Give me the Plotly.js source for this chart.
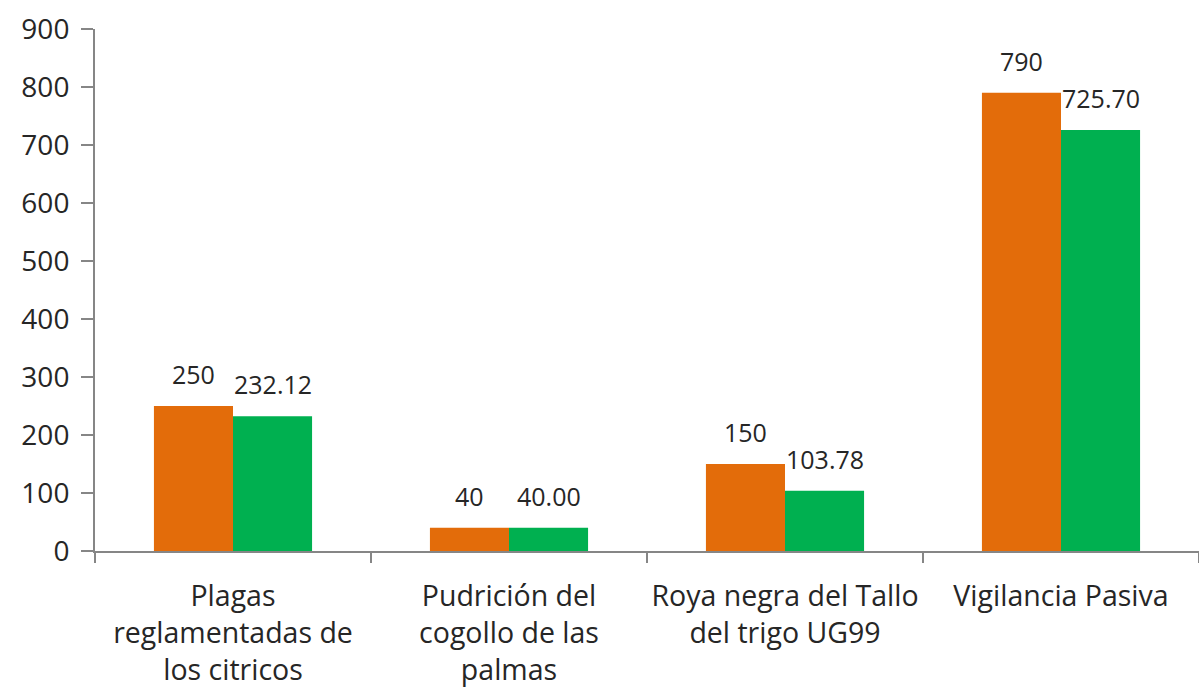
<!DOCTYPE html>
<html>
<head>
<meta charset="utf-8">
<script src="https://cdn.plot.ly/plotly-3.0.1.min.js"></script>
<style>html,body{margin:0;padding:0;background:#fff;}#chart{width:1199px;height:688px;}</style>
</head>
<body>
<div id="chart"></div>
<script>
var categories = ["Plagas<br>reglamentadas de<br>los citricos", "Pudrición del<br>cogollo de las<br>palmas", "Roya negra del Tallo<br>del trigo UG99", "Vigilancia Pasiva"];
var seriesA = [250, 40, 150, 790];
var seriesB = [232.12, 40.00, 103.78, 725.70];
var seriesADecimals = 0;
var seriesBDecimals = 2;
var yTicks = [0, 100, 200, 300, 400, 500, 600, 700, 800, 900];

var FONT = "Open Sans, DejaVu Sans, sans-serif";
var plotWidth = 1199 - 95 - 0;
var bargap = 0.427;
var catW = plotWidth / categories.length;
var barW = catW * (1 - bargap) / 2;

var traces = [
  {type: "bar", x: categories, y: seriesA, marker: {color: "#E36C0A"}, hoverinfo: "none"},
  {type: "bar", x: categories, y: seriesB, marker: {color: "#00B050"}, hoverinfo: "none"}
];

var annotations = [];
categories.forEach(function(c, i) {
  annotations.push({x: c, y: seriesA[i], xref: "x", yref: "y", text: seriesA[i].toFixed(seriesADecimals),
    showarrow: false, xshift: -barW / 2, yshift: 13, yanchor: "bottom", font: {family: FONT, size: 25, color: "#262626"}});
  annotations.push({x: c, y: seriesB[i], xref: "x", yref: "y", text: seriesB[i].toFixed(seriesBDecimals),
    showarrow: false, xshift: barW / 2, yshift: 13, yanchor: "bottom", font: {family: FONT, size: 25, color: "#262626"}});
});

var layout = {
  width: 1199, height: 688,
  margin: {l: 95, r: 0, t: 29, b: 137, pad: 0},
  paper_bgcolor: "#ffffff", plot_bgcolor: "#ffffff",
  barmode: "group", bargap: bargap, bargroupgap: 0,
  showlegend: false,
  font: {family: FONT, color: "#262626"},
  xaxis: {
    type: "category", range: [-0.5, 3.5], showgrid: false, zeroline: false,
    showline: true, linecolor: "#868686", linewidth: 2,
    ticks: "outside", tickson: "boundaries", ticklen: 10, tickwidth: 2, tickcolor: "#868686",
    tickangle: 0,
    tickfont: {family: FONT, size: 28.5, color: "#262626"}, ticklabelstandoff: 19, fixedrange: true
  },
  yaxis: {
    range: [0, 900], tickvals: yTicks, ticktext: yTicks.map(String), showgrid: false, zeroline: false,
    showline: true, linecolor: "#868686", linewidth: 2,
    ticks: "outside", ticklen: 12, tickwidth: 2, tickcolor: "#868686",
    tickfont: {family: FONT, size: 28, color: "#262626"}, ticklabelstandoff: 6, fixedrange: true
  },
  annotations: annotations
};

Plotly.newPlot("chart", traces, layout, {staticPlot: true, displayModeBar: false});
</script>
</body>
</html>
